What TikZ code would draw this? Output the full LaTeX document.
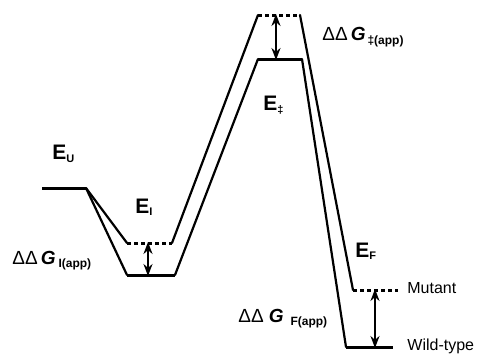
\documentclass[tikz,border=0pt]{standalone}
\usepackage{fontspec}
\setmainfont{Liberation Sans}
\usetikzlibrary{arrows.meta}
\begin{document}
\begin{tikzpicture}[x=0.5pt, y=-0.5pt, line join=round, >={Stealth[length=6pt,width=4.5pt]},
		lvl/.style={line width=1.5pt},
		ramp/.style={line width=1.1pt, line cap=round},
		mut/.style={dash pattern=on 2pt off 1.5pt},
		gap/.style={<->, line width=1pt, shorten <=-0.5pt, shorten >=-0.5pt},
		elab/.style={font=\fontsize{10.5}{12}\bfseries\selectfont, inner sep=0pt, anchor=base west},
		dlab/.style={inner sep=0pt, anchor=base west},
		tag/.style={font=\fontsize{8}{9}\selectfont, inner sep=0pt, anchor=base west}]
	\useasboundingbox (0,0) rectangle (478,354);
	\path (42,188)coordinate(U0)(86,188)coordinate(U1)
		(127,243)coordinate(MI0)(172,243)coordinate(MI1)
		(127,275)coordinate(WI0)(175,275)coordinate(WI1)
		(258,15)coordinate(MT0)(300,15)coordinate(MT1)
		(258,59)coordinate(WT0)(302,59)coordinate(WT1)
		(353,290)coordinate(MF0)(398,290)coordinate(MF1)
		(346,347)coordinate(WF0)(393,347)coordinate(WF1)
		(148,243)coordinate(dI0)(148,275)coordinate(dI1)
		(276,15)coordinate(dT0)(276,59)coordinate(dT1)
		(375,290)coordinate(dF0)(375,347)coordinate(dF1);
	% wild-type
	\draw[lvl](U0)--(U1);
	\draw[ramp](U1)--(WI0)(WI1)--(WT0)(WT1)--(WF0);
	\draw[lvl](WI0)--(WI1)(WT0)--(WT1)(WF0)--(WF1);
	% mutant
	\draw[ramp](U1)--(MI0)(MI1)--(MT0)(MT1)--(MF0);
	\draw[lvl,mut](MI0)--(MI1)(MT0)--(MT1)(MF0)--(MF1);
	\foreach \a/\b in{dI0/dI1,dT0/dT1,dF0/dF1}
	\draw[gap](\a)--(\b);
	% labels
	\node[elab](EU) at (52,159){E\raisebox{-1.5pt}{\fontsize{5.5}{6}\selectfont U}};
	\node[elab](EI) at (135,213){E\raisebox{-1pt}{\fontsize{5.5}{6}\selectfont I}};
	\node[elab](ET) at (263,110){E\raisebox{-1.5pt}{\fontsize{5.5}{6}\selectfont ‡}};
	\node[elab](EF) at (355,257){E\raisebox{-1pt}{\fontsize{5.5}{6}\selectfont F}};
	\node[dlab](ddI) at (12,264){\fontsize{9.5}{10}\selectfont ΔΔ\hspace{1.5pt}{\fontsize{9.5}{10}\bfseries\itshape\selectfont G}\hspace{1.5pt}\raisebox{-1.5pt}{\fontsize{6}{7}\bfseries\selectfont I(app)}};
	\node[dlab](ddT) at (322,40){\fontsize{9.5}{10}\selectfont ΔΔ\hspace{1.5pt}{\fontsize{9.5}{10}\bfseries\itshape\selectfont G}\hspace{1pt}\raisebox{-2pt}{\fontsize{6}{7}\bfseries\selectfont ‡(app)}};
	\node[dlab](ddF) at (238,322){\fontsize{9.5}{10}\selectfont ΔΔ\hspace{2.5pt}{\fontsize{9.5}{10}\bfseries\itshape\selectfont G}\hspace{3.5pt}\raisebox{-1.5pt}{\fontsize{6}{7}\bfseries\selectfont F(app)}};
	\node[tag](mt) at (407,293){Mutant};
	\node[tag](wt) at (407,350){Wild-type};
\end{tikzpicture}
\end{document}
